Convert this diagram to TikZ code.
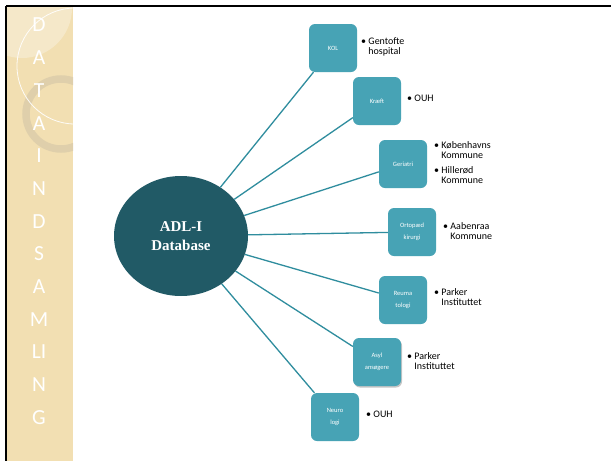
\documentclass[tikz,border=0pt]{standalone}
\usepackage{fontspec}
\setmainfont{Carlito}
\newfontfamily\timesf{Liberation Serif}
\usetikzlibrary{shapes.geometric,shadows}
\definecolor{strip}{HTML}{F2DFB2}
\definecolor{ringc}{HTML}{DCCDAA}
\definecolor{boxc}{HTML}{47A3B5}
\definecolor{ellc}{HTML}{215A66}
\definecolor{linec}{HTML}{2F8D9E}
\tikzset{
  topic/.style={draw=none,fill=boxc,rounded corners=6pt,minimum width=48pt,minimum height=48pt,
    text=white,font=\fontsize{6.5}{12.5}\selectfont,align=center,inner sep=1pt},
  info/.style={anchor=north west,font=\fontsize{10}{10}\selectfont,align=left,inner sep=0pt},
  conn/.style={draw=linec,line width=1.3pt},
  letter/.style={text=white,font=\fontsize{21.5}{21.5}\selectfont,inner sep=0pt}
}
\begin{document}
\begin{tikzpicture}[x=1pt,y=-1pt]
\useasboundingbox (0,0) rectangle (611,461);
\fill[white] (0,0) rectangle (611,461);
% strip
\fill[strip] (7,7) rectangle (73,461);
\begin{scope}
\clip (7,7) rectangle (73,461);
\fill[white,opacity=0.3] (22,8) circle (50);
\draw[ringc,opacity=0.85,line width=7.5pt] (61,114) circle (35);
\draw[white,opacity=0.9,line width=0.8pt] (75,66) circle (58);
\end{scope}
% border
\draw[black,line width=2pt] (6,6) -- (611,6);
\draw[black,line width=2pt] (6,6) -- (6,461);
% letters
\foreach \l [count=\i from 0] in {D,A,T,A,I,N,D,S,A,M,LI,N,G}
  \node[letter] (L\i) at (39,{25+32.7*\i}) {\l};
% ellipse
\node[ellipse,fill=ellc,minimum width=134pt,minimum height=120pt,inner sep=0pt,
  text=white,font=\timesf\bfseries\fontsize{15}{19}\selectfont,align=center] (db) at (181,236) {ADL-I\\Database};
% boxes
\node[topic] (kol) at (333,48) {KOL};
\node[topic] (kraeft) at (377,101) {Kræft};
\node[topic] (ger) at (403,164) {Geriatri};
\node[topic] (orto) at (412,232) {Ortopæd\\kirurgi};
\node[topic] (reuma) at (403,300) {Reuma\\tologi};
\node[topic,drop shadow={shadow xshift=1pt,shadow yshift=-1.5pt,opacity=0.45}] (asyl) at (377,362) {Asyl\\ansøgere};
\node[topic] (neuro) at (335,417) {Neuro\\logi};
% connectors
\foreach \b in {kol,kraeft,ger,orto,reuma,asyl,neuro}
  \draw[conn] (db) -- (\b);
% info text
\node[info] (i1) at (361,37) {• Gentofte\\\hphantom{• }hospital};
\node[info] (i2) at (407,95) {• OUH};
\node[info] (i3) at (434,141) {• Københavns\\\hphantom{• }Kommune\\[5pt]• Hillerød\\\hphantom{• }Kommune};
\node[info] (i4) at (443,222) {• Aabenraa\\\hphantom{• }Kommune};
\node[info] (i5) at (434,288) {• Parker\\\hphantom{• }Instituttet};
\node[info] (i6) at (407,352) {• Parker\\\hphantom{• }Instituttet};
\node[info] (i7) at (366,411) {• OUH};
\end{tikzpicture}
\end{document}
